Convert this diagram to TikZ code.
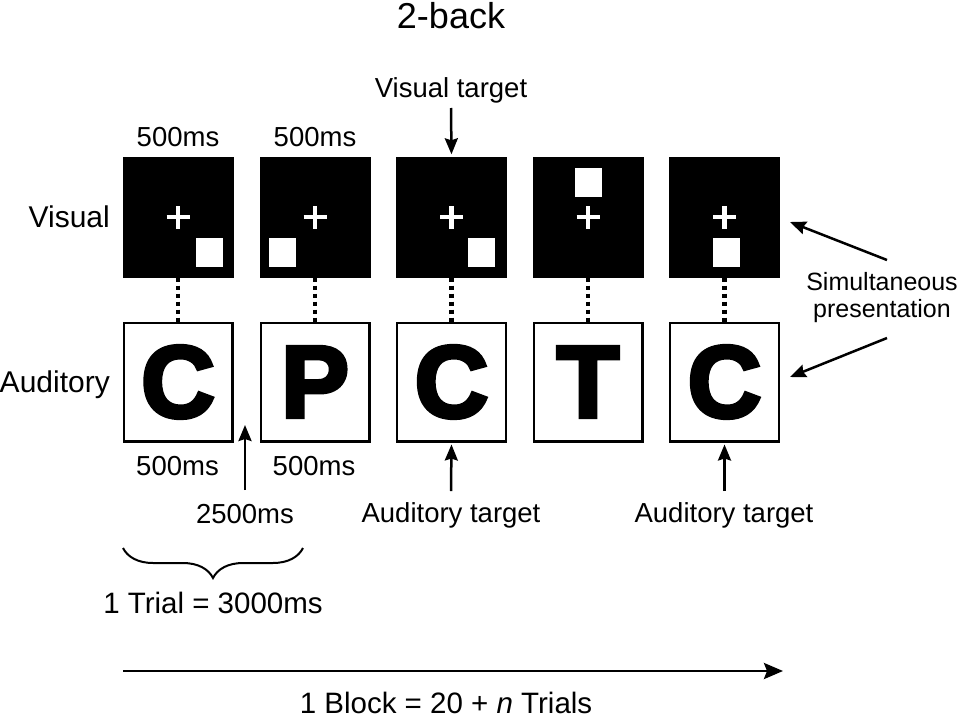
\documentclass[tikz,border=0pt]{standalone}
\usepackage{fontspec}
\setmainfont{Liberation Sans}
\newfontfamily\letterfont[FakeBold=4]{Liberation Sans Bold}
\usetikzlibrary{arrows.meta,decorations.pathreplacing}
\begin{document}
\begin{tikzpicture}[x=1pt,y=-1pt,
  lbl/.style={font=\fontsize{27.5}{32}\selectfont, inner sep=0pt, anchor=base},
  rowlbl/.style={font=\fontsize{30}{34}\selectfont, inner sep=0pt, anchor=base east},
  vbox/.style={fill=black, minimum width=111pt, minimum height=121pt, inner sep=0pt},
  abox/.style={draw=black, line width=2.2pt, fill=white, minimum width=108.8pt, minimum height=118.8pt, inner sep=0pt, font=\letterfont\fontsize{102}{102}\selectfont},
  sq/.style={fill=white, minimum width=27pt, minimum height=29pt, inner sep=0pt},
  dots/.style={line width=4.5pt, dash pattern=on 4.5pt off 3.5pt},
  arr/.style={line width=2.5pt, -{Stealth[length=16pt,width=13pt,inset=2pt]}},
  plusline/.style={white, line width=4.8pt}
]
\useasboundingbox (0,0) rectangle (960,720);

% title
\node[lbl, font=\fontsize{36}{40}\selectfont] (title) at (451,28) {2-back};

% visual boxes
\node[vbox] (v1) at (178,217) {};
\node[vbox] (v2) at (315,217) {};
\node[vbox] (v3) at (451.5,217) {};
\node[vbox] (v4) at (588,217) {};
\node[vbox] (v5) at (724.5,217) {};

% plus signs
\foreach \b in {v1,v2,v3,v4,v5}{
  \draw[plusline] ([xshift=-11.5pt]\b.center) -- ([xshift=11.5pt]\b.center);
  \draw[plusline] ([yshift=-11.5pt]\b.center) -- ([yshift=11.5pt]\b.center);
}

% white squares
\node[sq] (s1) at (209.5,252) {};
\node[sq] (s2) at (282.5,252) {};
\node[sq] (s3) at (481.5,252) {};
\node[sq] (s4) at (588,182) {};
\node[sq] (s5) at (726,252) {};

% auditory boxes
\node[abox] (a1) at (178,382) {C};
\node[abox] (a2) at (315,382) {P};
\node[abox] (a3) at (451.5,382) {C};
\node[abox] (a4) at (588,382) {T};
\node[abox] (a5) at (724.5,382) {C};

% dotted connectors
\foreach \i in {1,...,5}{
  \draw[dots] (v\i.south) -- (a\i.north);
}

% row labels
\node[rowlbl] (vis) at (110,227) {Visual};
\node[rowlbl] (aud) at (110,392) {Auditory};

% durations
\node[lbl] (t1) at (178,146) {500ms};
\node[lbl] (t2) at (315,146) {500ms};
\node[lbl] (b1) at (177.5,475) {500ms};
\node[lbl] (b2) at (314,475) {500ms};
\node[lbl] (isi) at (245,523) {2500ms};

% targets
\node[lbl] (vt) at (451,97) {Visual target};
\coordinate (vtarr) at (451,108);
\draw[arr, shorten >=2pt] (vtarr) -- (v3.north);

\node[lbl] (at1) at (451,522) {Auditory target};
\node[lbl] (at2) at (724,522) {Auditory target};
\coordinate (at1arr) at (451,491);
\coordinate (at2arr) at (724.5,491);
\draw[arr, shorten >=2pt] (at1arr) -- (a3.south);
\draw[arr, shorten >=2pt] (at2arr) -- (a5.south);

\coordinate (isiarr) at (245,490);
\coordinate (isitip) at (245,425);
\draw[arr] (isiarr) -- (isitip);

% simultaneous presentation
\node[align=center, inner sep=0pt, font=\fontsize{25}{27}\selectfont] (sim) at (882,298) {Simultaneous\\presentation};
\coordinate (simA) at (887,260);
\coordinate (simB) at (887,338);
\coordinate (simAt) at (790,222);
\coordinate (simBt) at (790,377);
\draw[arr] (simA) -- (simAt);
\draw[arr] (simB) -- (simBt);

% brace
\coordinate (brL) at (123,548);
\coordinate (brR) at (303,548);
\draw[line width=2pt, decorate, decoration={brace, amplitude=30pt, mirror}] (brL) -- (brR);
\node[lbl, font=\fontsize{29.5}{34}\selectfont] (trial) at (213,613) {1 Trial = 3000ms};

% block arrow
\coordinate (blkL) at (123,671);
\coordinate (blkR) at (783,671);
\draw[line width=2.8pt, -{Stealth[length=19pt,width=16pt,inset=3pt]}] (blkL) -- (blkR);
\node[lbl, font=\fontsize{29.5}{34}\selectfont] (block) at (446,713) {1 Block = 20 + \textit{n} Trials};
\end{tikzpicture}
\end{document}
